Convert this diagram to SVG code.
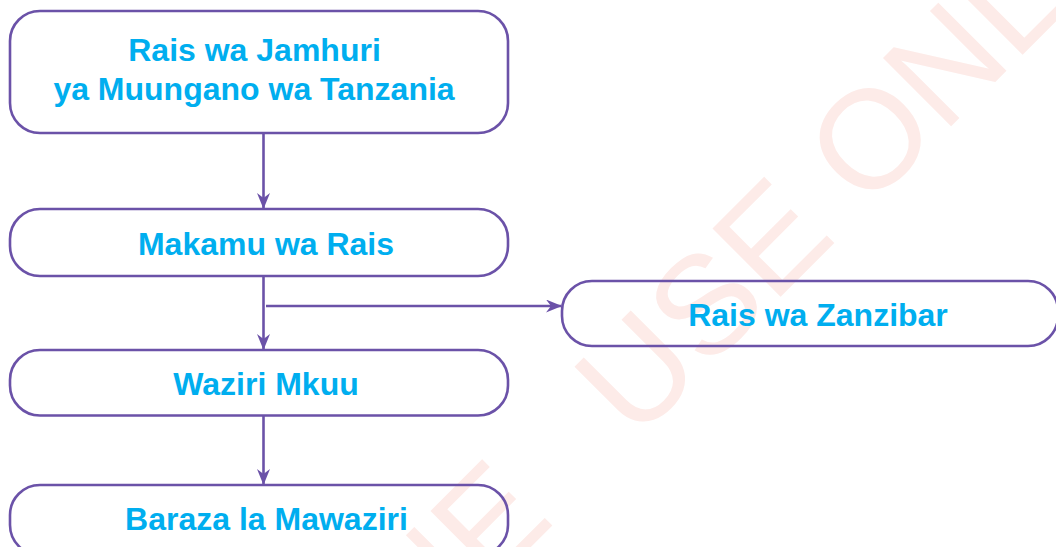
<svg xmlns="http://www.w3.org/2000/svg" width="1056" height="547" viewBox="0 0 1056 547">
  <style>
    .box { fill: none; stroke: #6b52a8; stroke-width: 2.6; }
    .lbl { font-family: "Liberation Sans", Arial, sans-serif; font-weight: bold; font-size: 32px; fill: #00aeef; text-anchor: middle; }
    .wm { font-family: "Liberation Sans", Arial, sans-serif; font-size: 140px; fill: #fdebe8; }
    .conn { fill: none; stroke: #6b52a8; stroke-width: 2.6; }
  </style>
  <defs>
    <marker id="arr" markerUnits="userSpaceOnUse" viewBox="0 0 16 13" markerWidth="16" markerHeight="13" refX="15" refY="6.5" orient="auto">
      <path d="M0,0 L16,6.5 L0,13 L5,6.5 Z" fill="#6b52a8"/>
    </marker>
  </defs>
  <rect width="1056" height="547" fill="#ffffff"/>
  <g id="watermark">
    <text class="wm" x="556.5" y="521.1" text-anchor="end" transform="rotate(-45 556.5 521.1)">FOR ONLINE</text>
    <text class="wm" x="635" y="442.4" transform="rotate(-45 635 442.4)">USE ONLY</text>
  </g>
  <g id="connectors">
    <line class="conn" x1="263.5" y1="133" x2="263.5" y2="208" marker-end="url(#arr)"/>
    <line class="conn" x1="263.5" y1="276" x2="263.5" y2="349" marker-end="url(#arr)"/>
    <line class="conn" x1="266" y1="306" x2="561" y2="306" marker-end="url(#arr)"/>
    <line class="conn" x1="263.5" y1="415.5" x2="263.5" y2="484" marker-end="url(#arr)"/>
  </g>
  <g id="node-rais-jamhuri">
    <rect class="box" x="10" y="11" width="498" height="122" rx="30" ry="30"/>
    <text class="lbl" x="254.5" y="61">Rais wa Jamhuri</text>
    <text class="lbl" x="254" y="100">ya Muungano wa Tanzania</text>
  </g>
  <g id="node-makamu">
    <rect class="box" x="10" y="209" width="498" height="67" rx="30" ry="30"/>
    <text class="lbl" x="266" y="255">Makamu wa Rais</text>
  </g>
  <g id="node-zanzibar">
    <rect class="box" x="562" y="281" width="496" height="65" rx="30" ry="30"/>
    <text class="lbl" x="818" y="326">Rais wa Zanzibar</text>
  </g>
  <g id="node-waziri">
    <rect class="box" x="10" y="350" width="498" height="65.5" rx="30" ry="30"/>
    <text class="lbl" x="266" y="395">Waziri Mkuu</text>
  </g>
  <g id="node-baraza">
    <rect class="box" x="10" y="485" width="498" height="70" rx="30" ry="30"/>
    <text class="lbl" x="266.5" y="530">Baraza la Mawaziri</text>
  </g>
</svg>
